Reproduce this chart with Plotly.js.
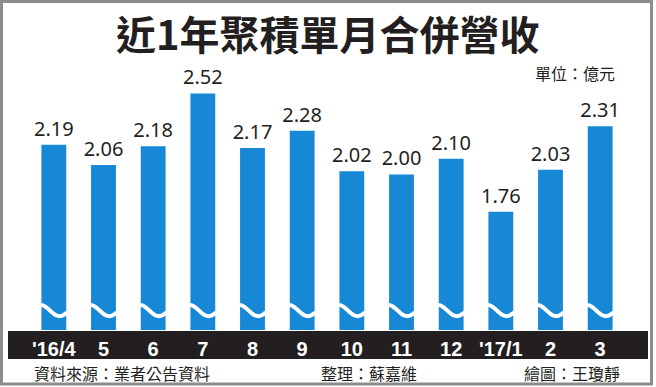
<!DOCTYPE html>
<html>
<head>
<meta charset="utf-8">
<script src="https://cdn.plot.ly/plotly-3.0.1.min.js"></script>
<style>html,body{margin:0;padding:0;background:#fff;}#chart{width:656px;height:387px;}</style>
</head>
<body>
<div id="chart"></div>
<script>
// ---- data ----
var months = ["'16/4", "5", "6", "7", "8", "9", "10", "11", "12", "'17/1", "2", "3"];
var revenue = [2.19, 2.06, 2.18, 2.52, 2.17, 2.28, 2.02, 2.00, 2.10, 1.76, 2.03, 2.31];
var titleText = "近1年聚積單月合併營收";
var unitText = "單位：億元";
var sourceText = "資料來源：業者公告資料";
var editorText = "整理：蘇嘉維";
var artistText = "繪圖：王瓊靜";

// ---- layout geometry (pixels) ----
var W = 656, H = 387, L = 29, R = 31, T = 81, B = 57;
var PW = W - L - R, PH = H - T - B;
function px(x) { return (x - L) / PW; }
function py(y) { return (H - B - y) / PH; }

var idx = months.map(function (_, i) { return i; });
var axisBase = 1.0;

var bars = {
  type: 'bar',
  x: idx,
  y: revenue.map(function (v) { return v - axisBase; }),
  base: axisBase,
  text: revenue.map(function (v) { return v.toFixed(2); }),
  textposition: 'outside',
  constraintext: 'none',
  cliponaxis: false,
  textfont: { family: 'Noto Sans, DejaVu Sans, sans-serif', size: 20, color: '#231f20' },
  marker: { color: '#1688d6', line: { width: 0 } },
  hoverinfo: 'none'
};

// decorative break-wave across each bar
var wx = [], wy = [];
idx.forEach(function (i) {
  for (var k = 0; k <= 16; k++) {
    var f = k / 16;
    wx.push(i - 0.27 + f * 0.54);
    wy.push(1.125 + 0.036 * Math.cos(f * 1.4 * Math.PI));
  }
  wx.push(null); wy.push(null);
});
var wave = {
  type: 'scatter', mode: 'lines', x: wx, y: wy,
  line: { color: '#ffffff', width: 4, shape: 'spline' },
  hoverinfo: 'none', connectgaps: false
};

var font = 'Noto Sans CJK TC, Noto Sans CJK SC, sans-serif';

var layout = {
  width: W, height: H,
  margin: { l: L, r: R, t: T, b: B, pad: 0 },
  paper_bgcolor: '#ffffff',
  plot_bgcolor: 'rgba(0,0,0,0)',
  showlegend: false,
  bargap: 0.5,
  xaxis: {
    range: [-0.5, months.length - 0.5],
    tickmode: 'array', tickvals: idx, ticktext: months,
    showgrid: false, zeroline: false, showline: false, ticks: '',
    tickfont: { family: 'Liberation Sans Narrow, Arial Narrow, Liberation Sans, sans-serif', size: 20, color: '#ffffff', weight: 'bold' },
    ticklabelstandoff: 5,
    fixedrange: true
  },
  yaxis: {
    range: [1.0, 2.6],
    showgrid: false, zeroline: false, showline: false, showticklabels: false, ticks: '',
    fixedrange: true
  },
  shapes: [
    { type: 'rect', xref: 'paper', yref: 'paper', layer: 'below',
      x0: px(8), x1: px(648), y0: py(359), y1: py(331),
      fillcolor: '#231f20', line: { width: 0 } },
    { type: 'rect', xref: 'paper', yref: 'paper', layer: 'above',
      x0: px(1.5), x1: px(651.5), y0: py(384), y1: py(1.5),
      fillcolor: 'rgba(0,0,0,0)', line: { color: '#8c8c8c', width: 3 } }
  ],
  annotations: [
    { text: titleText, xref: 'paper', yref: 'paper', x: px(328), y: py(33),
      xanchor: 'center', yanchor: 'middle', showarrow: false,
      font: { family: font, size: 40, color: '#231f20', weight: 'bold' } },
    { text: unitText, xref: 'paper', yref: 'paper', x: px(617), y: py(73),
      xanchor: 'right', yanchor: 'middle', showarrow: false,
      font: { family: font, size: 16, color: '#231f20' } },
    { text: sourceText, xref: 'paper', yref: 'paper', x: px(32), y: py(373),
      xanchor: 'left', yanchor: 'middle', showarrow: false,
      font: { family: font, size: 16, color: '#231f20' } },
    { text: editorText, xref: 'paper', yref: 'paper', x: px(319), y: py(373),
      xanchor: 'left', yanchor: 'middle', showarrow: false,
      font: { family: font, size: 16, color: '#231f20' } },
    { text: artistText, xref: 'paper', yref: 'paper', x: px(622), y: py(373),
      xanchor: 'right', yanchor: 'middle', showarrow: false,
      font: { family: font, size: 16, color: '#231f20' } }
  ]
};

Plotly.newPlot('chart', [bars, wave], layout, { displayModeBar: false, staticPlot: true });
</script>
</body>
</html>
